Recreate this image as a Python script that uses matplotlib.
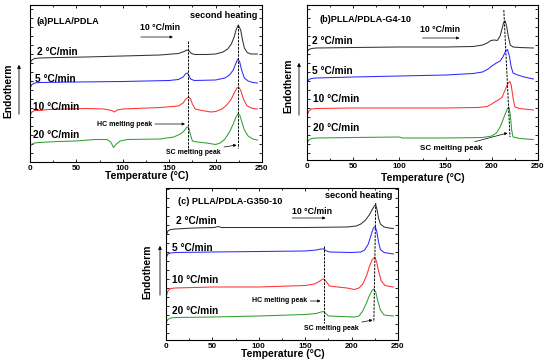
import numpy as np
import matplotlib
matplotlib.use("Agg")
import matplotlib.pyplot as plt
from matplotlib.ticker import MultipleLocator, NullFormatter

plt.rcParams['font.family'] = ['Liberation Sans', 'DejaVu Sans']
plt.rcParams['font.weight'] = 'bold'

# Curves: temperature (°C) and vertical position (pixel row, exo down)
rates = ["2 °C/min", "5 °C/min", "10 °C/min", "20 °C/min"]
colors = ["#333333", "#2b2bff", "#ff3030", "#30a030"]

# ---- panel (a) PLLA/PDLA
a_T = [
    [0, 2, 5, 10, 30, 60, 100, 140, 160, 166, 169, 171, 174, 178, 190, 200, 208, 213, 217, 220, 222, 224.5, 227, 229, 231, 234, 238, 245],
    [0, 2, 5, 10, 50, 100, 150, 160, 165, 168, 169.5, 171, 173, 177, 200, 210, 215, 219, 222, 224, 226, 228, 231, 235, 240, 245],
    [0, 2, 5, 10, 20, 40, 60, 80, 88, 91, 94, 100, 140, 160, 165, 168, 171, 173, 175, 178, 185, 195, 200, 207, 212, 217, 220, 223, 225, 227, 230, 234, 240, 245],
    [0, 2, 5, 10, 30, 50, 70, 83, 87, 90, 93, 97, 105, 140, 155, 162, 166, 169, 171, 173, 175, 180, 190, 200, 205, 210, 215, 219, 222, 224, 226, 228, 231, 235, 240, 245],
]
a_Y = [
    [63, 60, 58.5, 58, 57.5, 57, 56, 55, 53.5, 51.5, 50, 50.5, 53.5, 54.5, 54.5, 54, 52, 49, 44, 37, 30, 25, 30, 40, 48, 52.5, 54, 54],
    [88, 84.5, 83, 82.5, 82, 81.5, 80.5, 79.5, 77, 73.5, 73, 75, 79, 80.5, 80, 78, 75, 70, 63, 59, 62, 70, 78, 81, 82.5, 83],
    [116, 112, 110.5, 110.5, 109.5, 109, 108.5, 109, 110.5, 112, 110, 109, 107.5, 106, 103, 99, 97, 99, 104, 109, 110.5, 112, 111.5, 109, 105, 99, 93, 88, 87.5, 90, 99, 106, 108.5, 109],
    [147, 144, 143, 142.5, 141.5, 141, 139.5, 139.5, 142, 147.5, 144, 141, 139.5, 139, 137, 134, 131, 127, 127.5, 135, 141, 142, 143, 144.5, 143, 139, 132, 124, 117, 114, 115, 121, 130, 136, 139, 140],
]

# ---- panel (b) PLLA/PDLA-G4-10
b_T = [
    [0, 2, 5, 10, 50, 100, 150, 180, 190, 195, 199, 203, 206, 209, 211, 213, 214.5, 216, 218, 220, 223, 230, 245],
    [0, 2, 5, 10, 50, 100, 150, 180, 190, 196, 200, 205, 209, 212, 215, 217, 219, 221, 223, 228, 235, 245],
    [0, 2, 5, 10, 50, 100, 150, 185, 195, 200, 204, 207, 211, 214, 217, 219.5, 221, 223, 225, 230, 245],
    [0, 2, 5, 10, 50, 100, 103, 150, 190, 200, 205, 209, 212, 215, 217, 218.5, 220, 221.5, 223, 230, 245],
]
b_Y = [
    [52, 49.5, 48.5, 48, 47.5, 47, 47, 46.5, 45, 43, 40.5, 40, 40.5, 36, 29, 22, 21, 26, 37, 45, 47, 47.5, 48],
    [83, 79.5, 78.5, 78, 77, 76, 75, 73.5, 72, 69, 66, 63, 61, 57, 51, 49.5, 56, 67, 73, 75, 77, 79],
    [116, 111, 109, 108.5, 108, 108, 108, 107.5, 106.5, 104, 101.5, 100, 97.5, 91, 84, 81.5, 85, 98, 107, 108.5, 110],
    [143, 140, 138.5, 138, 137.5, 137, 138, 138, 137.5, 136, 133, 127, 120, 113, 108.5, 107, 115, 130, 137, 138.5, 139.5],
]

# ---- panel (c) PLLA/PDLA-G350-10
c_T = [
    [0, 2, 5, 10, 30, 52, 56, 60, 100, 150, 195, 205, 210, 215, 219, 222, 224.5, 226, 227.5, 229, 231, 235, 240, 245],
    [0, 2, 5, 10, 50, 100, 150, 162, 167, 170, 172, 176, 200, 210, 214, 218, 221, 223.5, 225.5, 227, 229, 231, 235, 245],
    [0, 2, 5, 10, 50, 100, 150, 160, 165, 169, 171, 173, 176, 185, 195, 203, 208, 212, 216, 219, 222, 225, 227, 229, 232, 236, 245],
    [0, 2, 5, 10, 50, 100, 150, 162, 167, 170, 172, 175, 190, 203, 208, 212, 216, 219, 222, 224, 226, 228, 231, 235, 245],
]
c_Y = [
    [236, 231, 229.5, 229, 228, 227.5, 226.5, 227.5, 227.5, 227.5, 227, 226, 224, 220, 215, 210, 206, 205, 210, 218, 224, 227, 228, 228.5],
    [258, 254, 253, 252.5, 252, 251.5, 251, 250, 249, 249, 250.5, 252, 252.5, 252, 250, 244, 235, 228, 226.5, 231, 242, 249.5, 252.5, 254],
    [297, 291, 288.5, 288, 287, 287, 285.5, 284, 281.5, 279, 279.5, 282, 286, 287, 288, 289.5, 288, 284, 276, 267, 260, 257, 262, 271, 281, 285.5, 287],
    [323, 319.5, 318, 317.5, 317, 316, 314.5, 313.5, 312, 311.5, 313.5, 316, 316.5, 317, 316, 311, 303, 296, 290.5, 289, 292, 300, 310, 315, 316],
]

W, H = 550, 363
fig = plt.figure(figsize=(W / 100, H / 100), dpi=100)


def px_axes(left, top, right, bottom):
    return fig.add_axes([left / W, 1 - bottom / H, (right - left) / W, (bottom - top) / H])


def setup(ax, top, bottom):
    ax.set_xlim(0, 250)
    ax.set_ylim(bottom, top)
    ax.xaxis.set_major_locator(MultipleLocator(50))
    ax.xaxis.set_minor_locator(MultipleLocator(25))
    ax.yaxis.set_major_locator(MultipleLocator(9))
    ax.yaxis.set_major_formatter(NullFormatter())
    ax.tick_params(which='both', direction='in', top=True, right=True,
                   labelsize=5.8, pad=2, width=0.6)
    ax.tick_params(which='major', length=2.5)
    ax.tick_params(which='minor', length=1.5)
    for lab in ax.get_xticklabels():
        lab.set_fontweight('bold')
    for s in ax.spines.values():
        s.set_linewidth(0.8)


def draw(ax, Ts, Ys):
    for T, Y, c in zip(Ts, Ys, colors):
        ax.plot(T, Y, color=c, lw=0.75)


def endo(xt, yc, xa, y0, y1):
    fig.text(xt / W, 1 - yc / H, "Endotherm", rotation=90, ha='center', va='center',
             fontsize=7.4, fontweight='bold')
    fig.add_artist(matplotlib.patches.FancyArrowPatch(
        (xa / W, 1 - y0 / H), (xa / W, 1 - y1 / H), transform=fig.transFigure,
        arrowstyle='-|>', mutation_scale=5, lw=0.6, color='k'))


def xlab(xc, yc):
    fig.text(xc / W, 1 - yc / H, "Temperature (°C)", ha='center', va='center',
             fontsize=7.5, fontweight='bold')


dash = dict(color='k', lw=0.7, ls=(0, (2.5, 1.2)))
small = dict(fontsize=5.0, fontweight='bold')
lab = dict(fontsize=6.6, fontweight='bold', va='center')
rlab = dict(fontsize=7.3, fontweight='bold', va='center')
arr = dict(arrowstyle='-|>', lw=0.5, color='k', mutation_scale=4, shrinkA=0, shrinkB=0)

# ---------------- (a)
axa = px_axes(30, 5, 262, 162)
setup(axa, 5, 162)
draw(axa, a_T, a_Y)
axa.plot([170, 170], [41, 150], **dash)
axa.plot([224.5, 224.5], [25, 148], **dash)
axa.text(7.5, 22, "(a)PLLA/PDLA", **lab)
axa.text(172, 16, "second heating", **lab)
axa.text(119, 28, "10 °C/min", fontsize=6.3, fontweight='bold', va='center')
axa.annotate("", xy=(154, 37), xytext=(119.5, 37), arrowprops=arr)
for t, y, x in zip(rates, [52, 79, 107, 135], [7.5, 5.5, 3.5, 3.5]):
    axa.text(x, y, t, **rlab)
axa.annotate("HC melting peak", xy=(167, 124), xytext=(72, 124), va='center', arrowprops=arr, **small)
axa.annotate("SC melting peak", xy=(222.5, 145), xytext=(147, 152), va='center', arrowprops=arr, **small)
endo(8, 91, 19, 117, 62)
xlab(147, 176)

# ---------------- (b)
axb = px_axes(307, 5, 538, 160)
setup(axb, 5, 160)
draw(axb, b_T, b_Y)
axb.plot([213, 219.7], [10, 137], **dash)
axb.text(14, 19, "(b)PLLA/PDLA-G4-10", **lab)
axb.text(122, 29, "10 °C/min", fontsize=6.3, fontweight='bold', va='center')
axb.annotate("", xy=(165, 38), xytext=(125, 38), arrowprops=arr)
for t, y, x in zip(rates, [41, 71, 99, 128], [5.5, 5.5, 6.5, 6.5]):
    axb.text(x, y, t, **rlab)
axb.annotate("SC melting peak", xy=(217, 133), xytext=(122, 148), va='center', arrowprops=arr,
             fontsize=5.8, fontweight='bold')
endo(288, 86, 299, 118, 60)
xlab(423, 178)

# ---------------- (c)
axc = px_axes(166, 188, 398, 340)
setup(axc, 188, 340)
draw(axc, c_T, c_Y)
axc.plot([170, 170], [246, 323], **dash)
axc.plot([226, 224], [203, 322], **dash)
axc.text(13, 201, "(c) PLLA/PDLA-G350-10", **lab)
axc.text(171, 196, "second heating", **lab)
axc.text(136, 211, "10 °C/min", fontsize=6.3, fontweight='bold', va='center')
axc.annotate("", xy=(172, 218), xytext=(136, 218), arrowprops=arr)
for t, y, x in zip(rates, [221, 248, 280, 311], [11, 6, 7, 7]):
    axc.text(x, y, t, **rlab)
axc.annotate("HC melting peak", xy=(166.5, 301), xytext=(93, 301), va='center', arrowprops=arr, **small)
axc.annotate("SC melting peak", xy=(222.5, 320), xytext=(149, 328), va='center', arrowprops=arr, **small)
endo(147, 272, 160, 298, 243)
xlab(283, 354)

fig.savefig("out.png", dpi=100)
